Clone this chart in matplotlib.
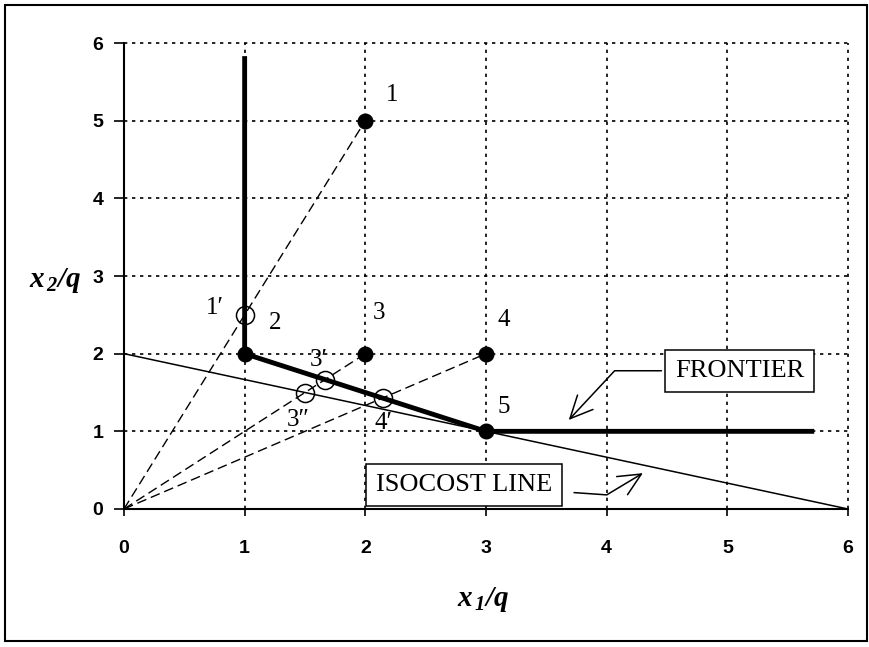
import matplotlib
matplotlib.use("Agg")
import matplotlib.pyplot as plt
from matplotlib.patches import Rectangle

# data
frontier_x = [1, 1, 3, 5.7]
frontier_y = [5.8, 2, 1, 1]
isocost_x = [0, 6]
isocost_y = [2, 0]

obs_x = [2, 1, 2, 3, 3]
obs_y = [5, 2, 2, 2, 1]
obs_labels = ["1", "2", "3", "4", "5"]
obs_label_x = [2.22, 1.25, 2.11, 3.15, 3.15]
obs_label_y = [5.33, 2.39, 2.52, 2.43, 1.31]
ray_targets = [0, 2, 3]  # rays from the origin through points 1, 3, 4

proj_x = [1, 5 / 3, 1.5, 15 / 7]
proj_y = [2.5, 5 / 3, 1.5, 10 / 7]
proj_labels = ["1\u2032", "3\u2032", "3\u2033", "4\u2032"]
proj_label_x = [0.75, 1.61, 1.44, 2.15]
proj_label_y = [2.59, 1.92, 1.15, 1.11]

ticks = [0, 1, 2, 3, 4, 5, 6]

serif = ["Liberation Serif", "DejaVu Serif"]
plt.rcParams["mathtext.fontset"] = "custom"
plt.rcParams["mathtext.rm"] = "Liberation Serif:bold:italic"
plt.rcParams["mathtext.it"] = "Liberation Serif:bold:italic"
plt.rcParams["mathtext.bf"] = "Liberation Serif:bold:italic"

fig = plt.figure(figsize=(8.7, 6.47), dpi=100)
ax = fig.add_axes([0.1425, 0.2133, 0.8322, 0.7202])

ax.set_xlim(0, 6)
ax.set_ylim(0, 6)
ax.set_xticks(ticks)
ax.set_yticks(ticks)
ax.grid(True, color="black", linestyle=(0, (2, 2.8)), linewidth=1.2)
ax.set_axisbelow(True)
for gl in ax.get_xgridlines() + ax.get_ygridlines():
    gl.set_clip_on(False)
for s in ["top", "right"]:
    ax.spines[s].set_visible(False)
for s in ["left", "bottom"]:
    ax.spines[s].set_linewidth(1.5)
ax.tick_params(axis="x", direction="out", length=5, width=1.2, pad=17)
ax.tick_params(axis="y", direction="out", length=7, width=1.2, pad=8)
for lab in ax.get_xticklabels() + ax.get_yticklabels():
    lab.set_fontfamily("Liberation Sans")
    lab.set_fontweight("bold")
    lab.set_fontsize(14)

# rays from the origin
for i in ray_targets:
    ax.plot([0, obs_x[i]], [0, obs_y[i]], color="black", lw=1.0,
            linestyle=(0, (7, 3.5)), zorder=3)

# isocost and frontier
ax.plot(isocost_x, isocost_y, color="black", lw=1.1, zorder=3)
ax.plot(frontier_x, frontier_y, color="black", lw=3.5, zorder=4,
        solid_joinstyle="miter")

# observed points
ax.plot(obs_x, obs_y, "o", color="black", markersize=10.5, zorder=5)
for lx, ly, t in zip(obs_label_x, obs_label_y, obs_labels):
    ax.text(lx, ly, t, fontsize=18, family=serif, ha="center", va="center")

# projections
ax.plot(proj_x, proj_y, "o", markerfacecolor="none", markeredgecolor="black",
        markeredgewidth=1.1, markersize=13, zorder=6)
for lx, ly, t in zip(proj_label_x, proj_label_y, proj_labels):
    ax.text(lx, ly, t, fontsize=18, family=serif, ha="center", va="center")

# callouts
box = dict(boxstyle="square,pad=0.38", facecolor="white", edgecolor="black", lw=1.1)
arrow = "->,head_length=0.85,head_width=0.4"
ax.annotate("FRONTIER", xy=(3.67, 1.12), xytext=(5.1, 1.78),
            fontsize=19, family=serif, ha="center", va="center", bbox=box,
            arrowprops=dict(arrowstyle=arrow, color="black", lw=1.1,
                            connectionstyle="angle,angleA=0,angleB=47,rad=0"),
            zorder=7)
ax.annotate("ISOCOST LINE", xy=(4.32, 0.48), xytext=(2.82, 0.31),
            fontsize=19, family=serif, ha="center", va="center", bbox=box,
            arrowprops=dict(arrowstyle=arrow, color="black", lw=1.1, shrinkA=8,
                            connectionstyle="angle,angleA=-4,angleB=31,rad=0"),
            zorder=7)

# axis titles
fig.text(0.063, 0.567, r"$x_{\,2}/q$", fontsize=21, ha="center", va="center")
fig.text(0.555, 0.073, r"$x_{\,1}/q$", fontsize=21, ha="center", va="center")

# outer frame
fig.patches.append(Rectangle((0.006, 0.009), 0.99, 0.983, transform=fig.transFigure,
                             fill=False, edgecolor="black", lw=1.5))

fig.savefig("out.png", dpi=100)
